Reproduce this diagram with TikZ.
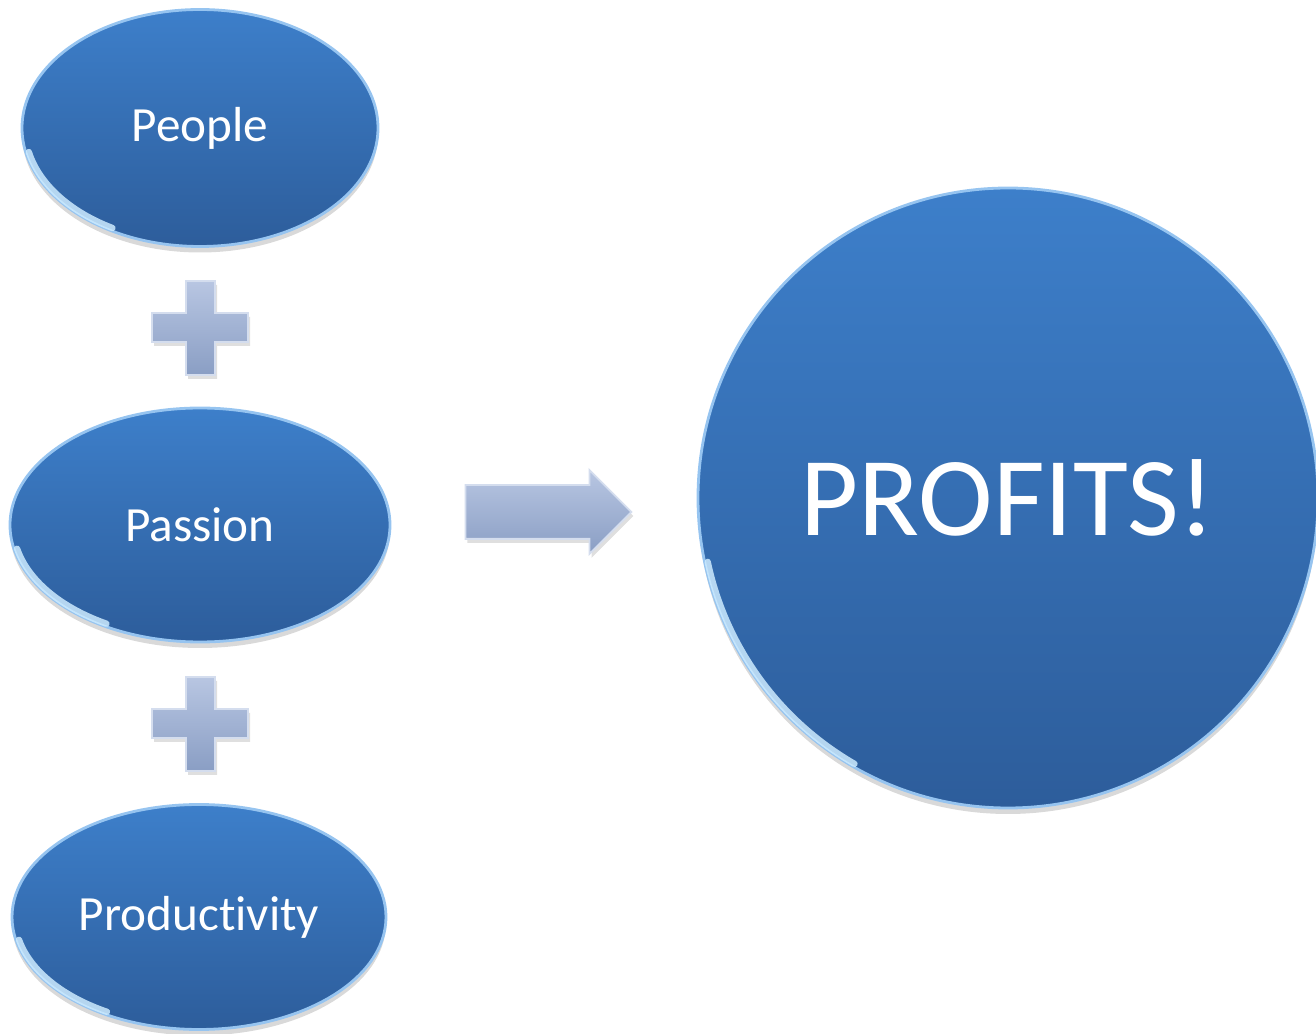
\documentclass[tikz,border=0pt]{standalone}
\usepackage{fontspec}
\setmainfont{Carlito}[Ligatures=CommonOff]
\usetikzlibrary{shapes.geometric,shapes.arrows,shadows}
\definecolor{blueTop}{RGB}{61,127,202}
\definecolor{blueBot}{RGB}{45,93,155}
\definecolor{rim}{RGB}{150,196,240}
\definecolor{glint}{RGB}{205,235,255}
\definecolor{steelTop}{RGB}{184,198,226}
\definecolor{steelBot}{RGB}{138,158,196}

\begin{document}
\begin{tikzpicture}[
  bubble/.style={ellipse, top color=blueTop, bottom color=blueBot,
    draw=rim, line width=0.8pt, text=white, inner sep=0pt,
    font=\fontsize{14}{16}\selectfont,
    drop shadow={opacity=0.3, shadow xshift=0pt, shadow yshift=-0.06cm}},
  steel/.style={top color=steelTop, bottom color=steelBot, draw=steelTop!60!white, line width=0.5pt,
    drop shadow={opacity=0.25, shadow xshift=0.02cm, shadow yshift=-0.04cm}}]
\useasboundingbox (0,0) rectangle (13.16,10.33);

\node[bubble, minimum width=3.56cm, minimum height=2.37cm] (people) at (2.00,9.05) {People};
\node[bubble, minimum width=3.80cm, minimum height=2.34cm] (passion) at (2.00,5.08) {Passion};
\node[bubble, minimum width=3.74cm, minimum height=2.25cm] (prod) at (1.99,1.16) {Productivity};
\node[bubble, circle, minimum size=6.20cm, font=\fontsize{32}{36}\selectfont] (profits) at (10.08,5.35) {PROFITS!};

% glint along the lower left rims
\foreach \n/\rx/\ry in {people/1.75/1.155, passion/1.87/1.14, prod/1.84/1.095, profits/3.07/3.07}
  \draw[glint, opacity=0.85, line width=1.8pt, line cap=round]
    (\n.center) ++(192:\rx cm and \ry cm) arc[start angle=192, end angle=240, x radius=\rx cm, y radius=\ry cm];

% plus signs between the bubbles
\foreach \y in {7.05,3.09}
  \draw[steel] (1.86,\y) ++(0,0.47) -- ++(0.29,0) -- ++(0,-0.32) -- ++(0.33,0) -- ++(0,-0.29)
    -- ++(-0.33,0) -- ++(0,-0.33) -- ++(-0.29,0) -- ++(0,0.33) -- ++(-0.34,0) -- ++(0,0.29) -- ++(0.34,0) -- cycle;

\node[single arrow, steel, inner sep=0.26cm, single arrow head extend=0.15cm,
  minimum height=1.66cm] (arr) at (5.35,5.21) {};
\end{tikzpicture}
\end{document}
